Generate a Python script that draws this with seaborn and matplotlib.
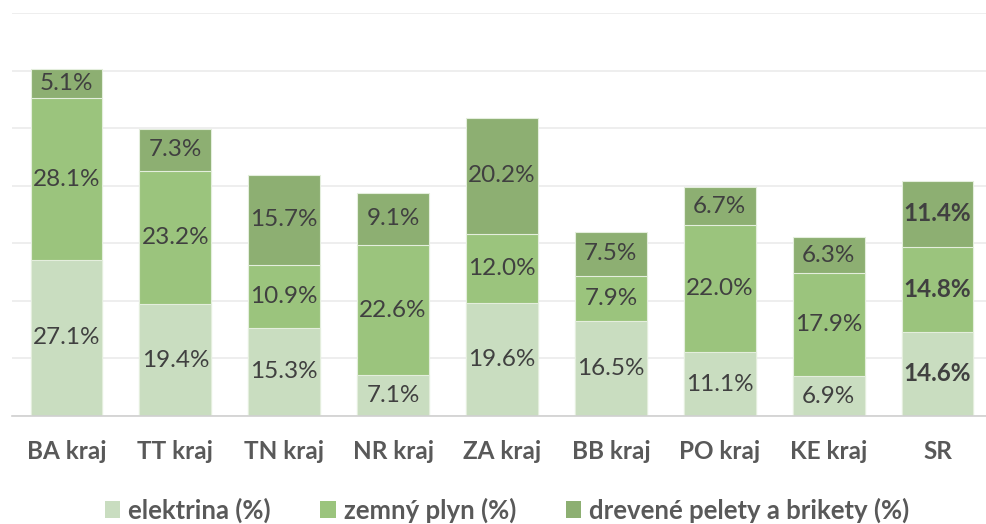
import matplotlib
matplotlib.use("Agg")
import matplotlib.pyplot as plt
import numpy as np
import pandas as pd
import seaborn as sns
from matplotlib.patches import Patch

regions = ["BA kraj", "TT kraj", "TN kraj", "NR kraj", "ZA kraj",
           "BB kraj", "PO kraj", "KE kraj", "SR"]
elektrina = [27.1, 19.4, 15.3, 7.1, 19.6, 16.5, 11.1, 6.9, 14.6]
zemny_plyn = [28.1, 23.2, 10.9, 22.6, 12.0, 7.9, 22.0, 17.9, 14.8]
drevene = [5.1, 7.3, 15.7, 9.1, 20.2, 7.5, 6.7, 6.3, 11.4]
series_names = ["elektrina (%)", "zemný plyn (%)", "drevené pelety a brikety (%)"]

COLORS = ["#C9DDC0", "#9BC47D", "#8DAF72"]
LABEL_C = "#404040"
TICK_C = "#595959"

sns.set_style("white")
plt.rcParams["font.family"] = ["Lato", "DejaVu Sans"]

df = pd.DataFrame({"region": regions, "el": elektrina, "zp": zemny_plyn, "dr": drevene})
df["cum1"] = df["el"]
df["cum2"] = df["el"] + df["zp"]
df["cum3"] = df["cum2"] + df["dr"]

fig = plt.figure(figsize=(9.87, 5.24), dpi=100)
ax = fig.add_axes([12 / 987, 108 / 524, 980 / 987, 403 / 524])

# stacked bars drawn as cumulative layers, top layer first
for col, color in zip(["cum3", "cum2", "cum1"], COLORS[::-1]):
    sns.barplot(data=df, x="region", y=col, color=color, width=0.66,
                saturation=1, ax=ax, zorder=2, edgecolor="#E4EEDD", linewidth=0.8)

ax.set_ylim(0, 70)
ax.set_xlim(-0.5, len(regions) - 0.5)
ax.set_yticks(np.arange(0, 71, 10))
ax.yaxis.grid(True, color="#EBEBEB", linewidth=1.2, zorder=0)
ax.set_axisbelow(True)
ax.tick_params(axis="y", left=False, labelleft=False)
ax.tick_params(axis="x", bottom=False, pad=14)
ax.set_xlabel("")
ax.set_ylabel("")
for s in ["top", "right", "left"]:
    ax.spines[s].set_visible(False)
ax.spines["bottom"].set_color("#D0D0D0")
ax.spines["bottom"].set_linewidth(1.2)
ax.set_xticks(range(len(regions)))
ax.set_xticklabels(regions, fontsize=17.5, fontweight="bold", color=TICK_C)

for i, row in df.iterrows():
    weight = "bold" if row["region"] == "SR" else "normal"
    segs = [(0, row["el"]), (row["cum1"], row["zp"]), (row["cum2"], row["dr"])]
    for base, val in segs:
        ax.text(i, base + val / 2, f"{val:.1f}%", ha="center", va="center",
                fontsize=17.5, color=LABEL_C, fontweight=weight, zorder=5)

handles = [Patch(facecolor=c, edgecolor="none") for c in COLORS]
fig.legend(handles, series_names, loc="center", bbox_to_anchor=(507 / 987, 14 / 524),
           ncol=3, frameon=False, handlelength=0.6, handleheight=0.6,
           handletextpad=0.3, columnspacing=1.95,
           prop={"size": 18.5, "weight": "bold"}, labelcolor=TICK_C)

fig.savefig("out.png", dpi=100)
